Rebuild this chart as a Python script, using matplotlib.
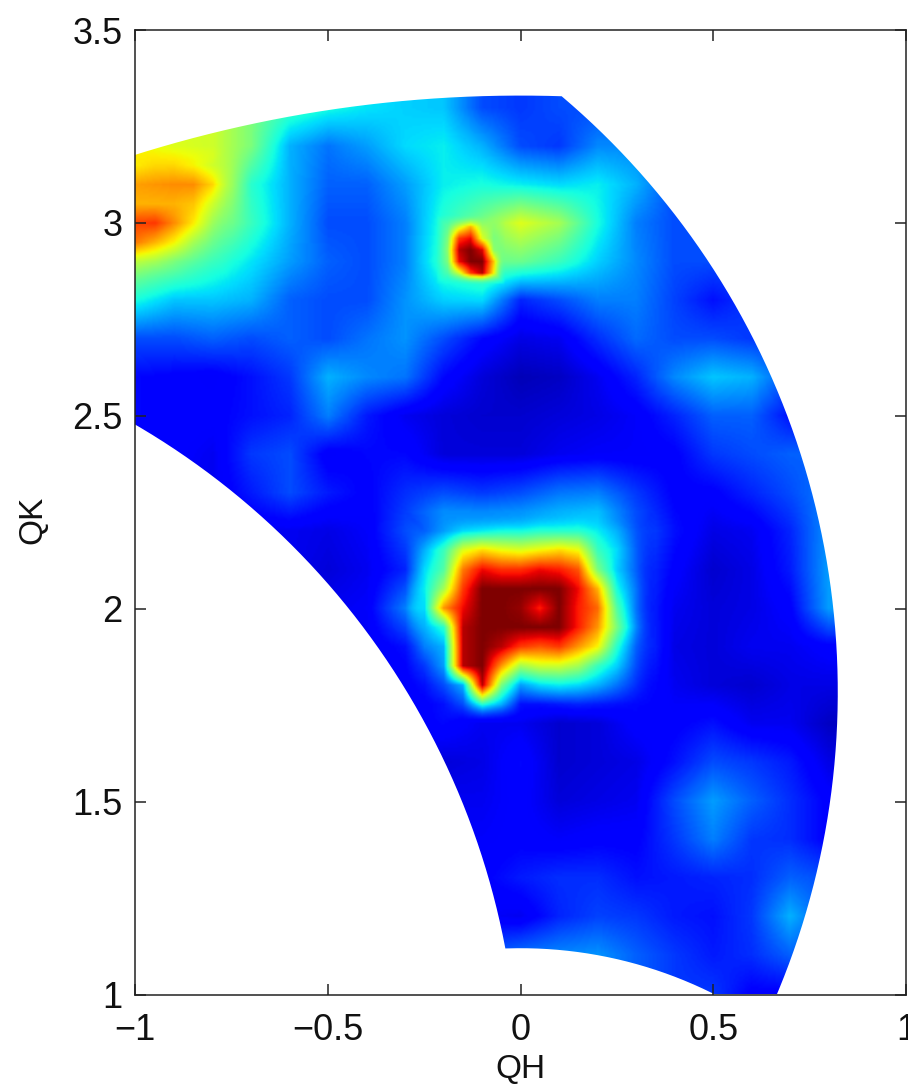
import numpy as np
import matplotlib
matplotlib.use("Agg")
import matplotlib.pyplot as plt
from matplotlib.path import Path
from matplotlib.patches import PathPatch

plt.rcParams['font.family'] = ['Liberation Sans', 'DejaVu Sans']

x_ticks = [-1, -0.5, 0, 0.5, 1]
x_labels = ['\u22121', '\u22120.5', '0', '0.5', '1']
y_ticks = [1, 1.5, 2, 2.5, 3, 3.5]
y_labels = ['1', '1.5', '2', '2.5', '3', '3.5']

# Intensity (0..1 on the jet scale), rows from low QK to high QK
base_x = [-1.0, -0.9, -0.8, -0.7, -0.6, -0.5, -0.4, -0.3, -0.2, -0.1, 0.0, 0.1, 0.2, 0.3, 0.4, 0.5, 0.6, 0.7, 0.8, 0.9]
base_y = [1.0, 1.1, 1.2, 1.3, 1.4, 1.5, 1.6, 1.7, 1.8, 1.9, 2.0, 2.1, 2.2, 2.3, 2.4, 2.5, 2.6, 2.7, 2.8, 2.9, 3.0, 3.1, 3.2, 3.3, 3.4]
base_z = [
 [.12,.12,.12,.12,.12,.12,.12,.12,.14,.2,.24,.26,.27,.22,.18,.18,.12,.12,.2,.2],
 [.12,.12,.12,.12,.12,.12,.12,.12,.14,.2,.24,.26,.27,.22,.18,.15,.17,.22,.2,.2],
 [.12,.12,.12,.12,.12,.12,.12,.12,.12,.11,.1,.16,.19,.18,.15,.14,.18,.3,.2,.2],
 [.12,.12,.12,.12,.12,.12,.12,.12,.12,.12,.15,.17,.17,.14,.15,.16,.17,.22,.2,.2],
 [.12,.12,.12,.12,.12,.12,.12,.12,.11,.11,.12,.11,.12,.12,.18,.25,.18,.17,.12,.12],
 [.1,.1,.1,.1,.1,.1,.1,.1,.1,.1,.12,.08,.09,.1,.2,.28,.22,.17,.12,.12],
 [.1,.1,.1,.1,.1,.1,.1,.1,.08,.09,.13,.07,.08,.09,.14,.2,.18,.15,.09,.09],
 [.1,.1,.1,.1,.1,.1,.1,.11,.13,.1,.1,.07,.08,.12,.12,.14,.1,.1,.06,.06],
 [.1,.1,.1,.1,.1,.1,.1,.11,.17,.3,.2,.2,.2,.16,.1,.08,.07,.09,.09,.09],
 [.1,.1,.1,.1,.1,.1,.1,.14,.3,1,.85,.75,.7,.22,.09,.08,.1,.1,.12,.12],
 [.1,.1,.1,.1,.1,.1,.11,.25,.75,1,1,.95,.75,.2,.1,.08,.09,.12,.28,.28],
 [.1,.1,.1,.1,.1,.08,.1,.16,.5,.85,.9,.9,.65,.2,.12,.07,.09,.15,.28,.28],
 [.1,.1,.1,.1,.1,.09,.11,.2,.33,.34,.34,.36,.38,.22,.14,.09,.1,.16,.27,.27],
 [.1,.1,.1,.15,.2,.15,.12,.17,.2,.18,.2,.24,.25,.18,.12,.12,.16,.2,.25,.25],
 [.1,.12,.1,.18,.2,.11,.13,.13,.08,.08,.08,.1,.11,.11,.12,.18,.2,.22,.22,.22],
 [.13,.12,.12,.14,.16,.25,.15,.1,.08,.07,.07,.08,.09,.11,.16,.22,.22,.14,.12,.12],
 [.13,.12,.11,.14,.18,.3,.26,.24,.13,.08,.05,.06,.1,.16,.26,.32,.3,.2,.18,.18],
 [.2,.2,.22,.2,.22,.2,.24,.27,.2,.13,.09,.1,.17,.23,.2,.2,.18,.17,.17,.17],
 [.38,.32,.32,.3,.22,.2,.2,.27,.33,.34,.16,.2,.25,.25,.19,.14,.18,.15,.15,.15],
 [.55,.5,.42,.35,.28,.22,.2,.25,.42,.48,.48,.42,.33,.26,.2,.2,.2,.2,.2,.2],
 [.85,.72,.55,.42,.3,.2,.2,.25,.4,.5,.62,.55,.38,.25,.2,.2,.2,.2,.2,.2],
 [.75,.75,.68,.4,.3,.22,.22,.28,.36,.38,.36,.34,.36,.3,.2,.2,.2,.2,.2,.2],
 [.65,.62,.6,.5,.3,.24,.28,.34,.36,.3,.2,.18,.26,.26,.2,.2,.2,.2,.2,.2],
 [.6,.6,.6,.5,.42,.38,.35,.33,.32,.2,.18,.2,.2,.2,.2,.2,.2,.2,.2,.2],
 [.6,.6,.6,.5,.42,.38,.35,.33,.32,.2,.18,.2,.2,.2,.2,.2,.2,.2,.2,.2],
]

center_x = [-.30, -.25, -.20, -.15, -.10, -.05, 0, .05, .10, .15, .20, .25, .30, .35]
center_y = [1.70, 1.75, 1.80, 1.85, 1.90, 1.95, 2.00, 2.05, 2.10, 2.15, 2.20, 2.25]
center_z = [
 [.11,.11,.13,.1,.1,.11,.1,.08,.07,.08,.08,.1,.12,.12],
 [.11,.12,.14,.2,.4,.3,.14,.14,.15,.16,.15,.14,.13,.12],
 [.12,.14,.2,.3,.95,.5,.28,.34,.36,.34,.3,.24,.17,.11],
 [.13,.18,.28,.95,1,.75,.55,.6,.6,.55,.42,.33,.2,.11],
 [.15,.25,.3,.95,1,.95,.85,.82,.85,.75,.65,.4,.22,.11],
 [.18,.3,.4,.95,1,1,1,1,1,.88,.75,.5,.26,.11],
 [.2,.34,.75,.9,1,1,.98,.88,1,.88,.8,.45,.24,.11],
 [.2,.36,.55,.85,1,1,1,1,1,.9,.72,.38,.24,.11],
 [.17,.34,.45,.78,.9,.86,.86,.9,.88,.82,.5,.33,.22,.12],
 [.17,.3,.42,.62,.68,.64,.62,.65,.68,.64,.42,.34,.22,.13],
 [.17,.22,.28,.34,.36,.38,.38,.4,.4,.4,.36,.3,.21,.14],
 [.15,.17,.2,.2,.2,.2,.22,.25,.26,.28,.26,.22,.18,.15],
]

small_x = [-.22, -.19, -.16, -.13, -.10, -.07, -.04]
small_y = [2.84, 2.87, 2.90, 2.93, 2.96, 2.99, 3.02]
small_z = [
 [.38,.38,.4,.44,.45,.46,.42],
 [.42,.44,.6,.85,.95,.65,.44],
 [.44,.5,.9,1,1,.7,.45],
 [.44,.52,.95,1,.92,.52,.48],
 [.44,.5,.85,.9,.62,.5,.5],
 [.44,.46,.6,.72,.55,.52,.54],
 [.42,.45,.47,.5,.5,.52,.55],
]

corner_x = [-1.0, -.95, -.90, -.85, -.80, -.75]
corner_y = [2.85, 2.90, 2.95, 3.00, 3.05, 3.10, 3.15, 3.20]
corner_z = [
 [.48,.44,.42,.38,.36,.36],
 [.58,.55,.5,.46,.42,.4],
 [.78,.72,.65,.55,.48,.42],
 [.84,.85,.76,.66,.54,.45],
 [.72,.72,.72,.7,.6,.48],
 [.74,.75,.76,.76,.68,.5],
 [.66,.68,.68,.65,.6,.52],
 [.62,.62,.62,.62,.6,.55],
]

# Scan limits: two rings about the origin and two large circles
r_outer, r_inner = 3.33, 1.12
c_right, R_right = (-1.2, 1.784), 2.023
c_left, R_left = (-2.009, 0.745), 2.005


def ring_hit(c, R, r):
    d = np.hypot(*c)
    ux, uy = c[0] / d, c[1] / d
    a = (r * r - R * R + d * d) / (2 * d)
    h = np.sqrt(r * r - a * a)
    return (a * ux + h * uy, a * uy - h * ux)


def arc(c, r, p, q):
    a0 = np.arctan2(p[1] - c[1], p[0] - c[0])
    a1 = np.arctan2(q[1] - c[1], q[0] - c[0])
    d = (a1 - a0 + np.pi) % (2 * np.pi) - np.pi
    t = a0 + d * np.linspace(0, 1, 300)
    return np.column_stack([c[0] + r * np.cos(t), c[1] + r * np.sin(t)])


def bilinear(gx, gy, gz, xf, yf):
    gz = np.asarray(gz, float)
    rows = np.array([np.interp(xf, gx, row) for row in gz])
    return np.array([np.interp(yf, gy, rows[:, j]) for j in range(len(xf))]).T


def overlay(field, gx, gy, gz, xf, yf, fade, open_left=False):
    patch = bilinear(gx, gy, gz, xf, yf)
    X, Y = np.meshgrid(xf, yf)
    dx0 = np.full_like(X, 9.0) if open_left else X - gx[0]
    d = np.minimum.reduce([dx0, gx[-1] - X, Y - gy[0], gy[-1] - Y])
    w = np.clip(d / fade, 0, 1)
    return field * (1 - w) + patch * w


tl = ring_hit(c_left, R_left, r_outer)
tr = ring_hit(c_right, R_right, r_outer)
br = ring_hit(c_right, R_right, r_inner)
bl = ring_hit(c_left, R_left, r_inner)
o = (0, 0)
verts = np.vstack([
    arc(o, r_outer, tl, tr),
    arc(c_right, R_right, tr, br),
    arc(o, r_inner, br, bl),
    arc(c_left, R_left, bl, tl),
])

W, H = 908, 1089
fig = plt.figure(figsize=(W / 100, H / 100), dpi=100)
L, R, T, B = 135, 906, 30, 994.5
ax = fig.add_axes([L / W, 1 - B / H, (R - L) / W, (B - T) / H])

xf = np.linspace(-1, 0.9, 381)
yf = np.linspace(1, 3.4, 481)
field = bilinear(base_x, base_y, base_z, xf, yf)
field = overlay(field, center_x, center_y, center_z, xf, yf, 0.05)
field = overlay(field, small_x, small_y, small_z, xf, yf, 0.03)
field = overlay(field, corner_x, corner_y, corner_z, xf, yf, 0.05, open_left=True)

im = ax.imshow(field, origin='lower', extent=(xf[0], xf[-1], yf[0], yf[-1]), aspect='auto',
               cmap='jet', vmin=0, vmax=1, interpolation='bilinear', zorder=1)
clip = PathPatch(Path(np.vstack([verts, verts[:1]])), transform=ax.transData,
                 facecolor='none', edgecolor='none')
ax.add_patch(clip)
im.set_clip_path(clip)
ax.set_xlim(-1, 1)
ax.set_ylim(1, 3.5)

ax.set_xticks(x_ticks, x_labels)
ax.set_yticks(y_ticks, y_labels)
ax.tick_params(direction='in', top=True, right=True, length=8, width=1.1,
               labelsize=26, pad=9, color='#222222', labelcolor='#111111')
ax.tick_params(axis='x', pad=13)
for s in ax.spines.values():
    s.set_linewidth(1.1)
    s.set_color('#222222')
    s.set_zorder(5)
fig.text(520 / W, 1 - 1069 / H, 'QH', ha='center', va='center', fontsize=24, color='#111111')
fig.text(33 / W, 1 - 520 / H, 'QK', ha='center', va='center', rotation=90, fontsize=24, color='#111111')
fig.savefig('out.png', dpi=100)
